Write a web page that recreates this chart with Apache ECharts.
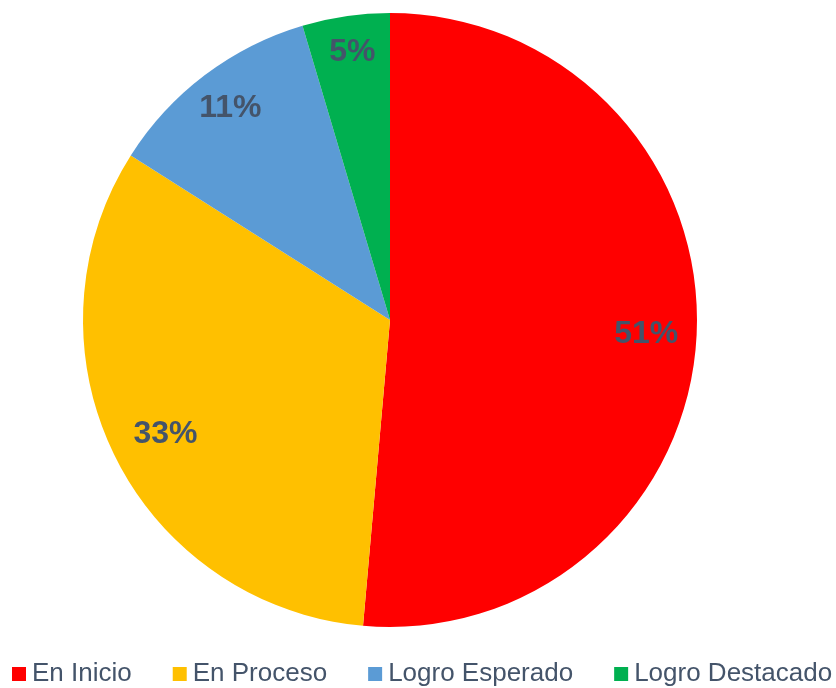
<!DOCTYPE html>
<html><head><meta charset="utf-8">
<script src="https://cdn.jsdelivr.net/npm/echarts@6/dist/echarts.min.js"></script>
<style>html,body{margin:0;padding:0;background:#fff}#c{width:836px;height:688px}</style>
</head><body><div id="c"></div>
<script>
const categories = ['En Inicio', 'En Proceso', 'Logro Esperado', 'Logro Destacado'];
const values = [51.4, 32.6, 11.4, 4.6];
const colors = ['#FF0000', '#FFC000', '#5B9BD5', '#00B050'];
const labelShiftX = [-5, 10, -2, 0];
const labelShiftY = [3, -2, -3, -9];

const data = categories.map((n, i) => ({ name: n, value: values[i], itemStyle: { color: colors[i] } }));
const chart = echarts.init(document.getElementById('c'));
chart.setOption({
  animation: false,
  legend: {
    data: categories,
    top: 661,
    left: 12,
    width: 830,
    padding: 0,
    icon: 'rect',
    itemWidth: 14,
    itemHeight: 14,
    itemGap: 41,
    textStyle: { fontFamily: 'Liberation Sans, Arial', fontSize: 26, color: '#44546A', padding: [0, 0, 0, 1] }
  },
  series: [
    {
      type: 'pie',
      center: [390, 320],
      radius: [0, 307],
      startAngle: 90,
      clockwise: true,
      label: { show: false },
      labelLine: { show: false },
      itemStyle: { borderWidth: 0 },
      data: data
    },
    {
      type: 'pie',
      center: [390, 320],
      radius: [210, 307],
      startAngle: 90,
      clockwise: true,
      silent: true,
      itemStyle: { color: 'rgba(0,0,0,0)', borderWidth: 0 },
      label: {
        show: true,
        position: 'inside',
        fontFamily: 'Liberation Sans, Arial',
        fontSize: 32,
        fontWeight: 'bold',
        color: '#44546A',
        formatter: p => Math.round(p.percent) + '%'
      },
      labelLayout: p => ({ dx: labelShiftX[p.dataIndex], dy: labelShiftY[p.dataIndex] }),
      labelLine: { show: false },
      data: categories.map((n, i) => ({ name: n, value: values[i] }))
    }
  ]
});
</script></body></html>
